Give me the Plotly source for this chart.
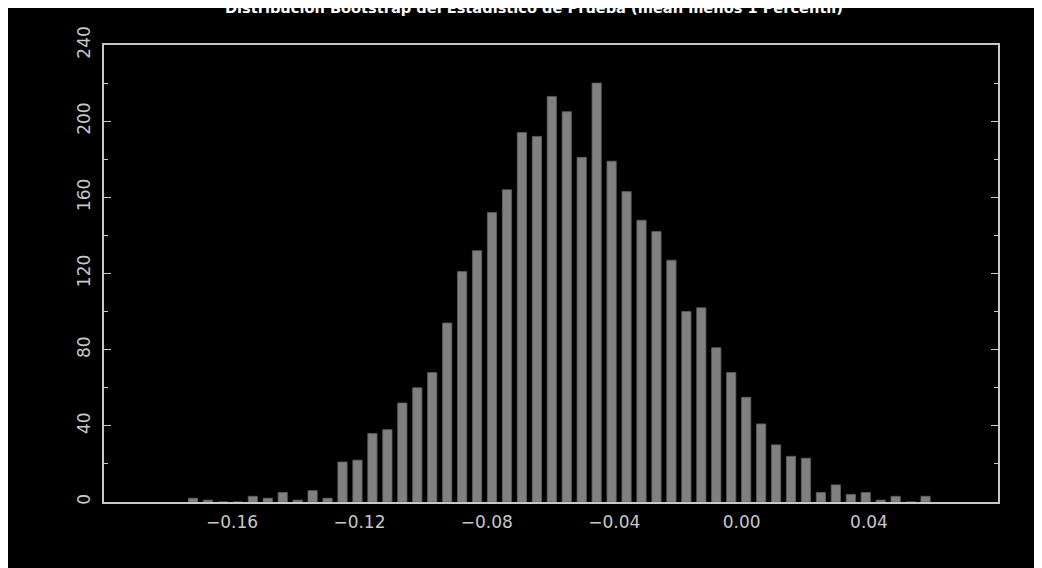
import plotly.graph_objects as go

# ---- data ----
title_text = "Distribucion Bootstrap del Estadistico de Prueba (mean menos 1 Percentil)"
bin_start = -0.17225      # centre of first bin
bin_width = 0.004694      # histogram bin width
counts = [2, 1, 0, 0, 3, 2, 5, 1, 6, 2,
          21, 22, 36, 38, 52, 60, 68, 94, 121, 132,
          152, 164, 194, 192, 213, 205, 181, 220, 179, 163,
          148, 142, 127, 100, 102, 81, 68, 55, 41, 30,
          24, 23, 5, 9, 4, 5, 1, 3, 0, 3]
bin_centers = [round(bin_start + i * bin_width, 6) for i in range(len(counts))]
x_tickvals = [-0.16, -0.12, -0.08, -0.04, 0.00, 0.04]
y_tickvals = [0, 40, 80, 120, 160, 200, 240]
x_range = [-0.2002, 0.0805]
y_range = [0, 240]

axis_col = "#c8c8c8"
label_font = dict(family="DejaVu Sans", size=17, color=axis_col)

fig = go.Figure()
fig.add_trace(go.Bar(
    x=bin_centers, y=counts,
    marker=dict(color="#808080", line=dict(color="#5e5e5e", width=0.8)),
    hoverinfo="x+y", showlegend=False,
))

fig.update_layout(
    width=1034, height=560,
    paper_bgcolor="#000000", plot_bgcolor="#000000",
    margin=dict(l=96, r=44, t=37, b=66),
    bargap=0.38,
    title=dict(text=title_text, x=0.5087, xanchor="center",
               yref="container", y=1.0, yanchor="middle",
               font=dict(family="DejaVu Sans", size=14.6, color="#ffffff", weight="bold")),
    xaxis=dict(range=x_range, tickmode="array", tickvals=x_tickvals, tickformat=".2f",
               showgrid=False, zeroline=False, showline=True, linecolor=axis_col,
               linewidth=1.5, mirror=True, ticks="", tickfont=label_font,
               ticklabelstandoff=4),
    yaxis=dict(range=y_range, tickmode="array", tickvals=y_tickvals, tickangle=-90,
               showgrid=False, zeroline=False, showline=True, linecolor=axis_col,
               linewidth=1.5, mirror="ticks", ticks="inside", ticklen=7,
               tickcolor=axis_col, tickwidth=1.2, tickfont=label_font,
               ticklabelstandoff=5,
               minor=dict(dtick=20, tick0=0, ticks="inside", ticklen=4, tickcolor=axis_col,
                          tickwidth=1.2, showgrid=False)),
)

fig.write_html("out.html")
